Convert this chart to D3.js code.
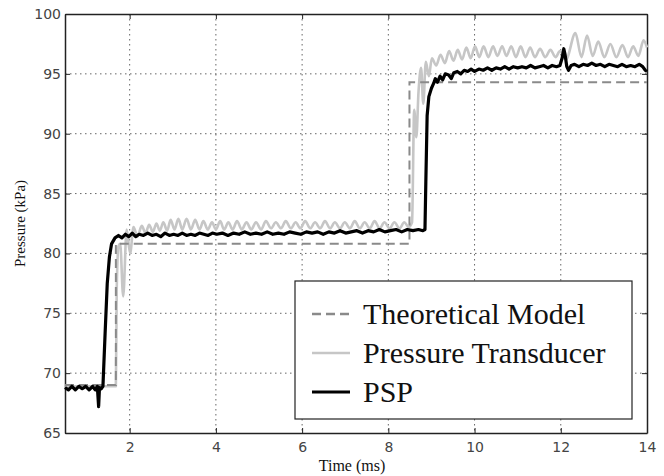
<!DOCTYPE html>
<html><head><meta charset="utf-8">
<script src="https://cdn.jsdelivr.net/npm/d3@7"></script>
<style>body{margin:0;background:#fff}</style>
</head><body><svg id="c" width="664" height="476"></svg>
<script>
const xTicks = [2,4,6,8,10,12,14];
const yTicks = [65,70,75,80,85,90,95,100];
const xDomain = [0.5,14];
const yDomain = [65,100];
const seriesNames = ["Theoretical Model","Pressure Transducer","PSP"];

const theoretical = [[0.5,69.0],[1.68,69.0],[1.68,80.8],[8.49,80.8],[8.49,94.3],[14,94.3]];

const transducer = [[0.50,68.9],[1.68,68.9],[1.70,77.0],[1.74,80.6],[1.78,80.8],[1.85,76.4],[1.93,82.0],[2.01,80.0],[2.09,82.2],[2.18,81.4],[2.28,82.3],[2.37,81.7],[2.45,82.4],[2.54,81.8],[2.62,82.5],[2.70,81.9],[2.78,82.6],[2.87,81.9],[2.95,82.8],[3.04,82.0],[3.13,82.9],[3.22,82.0],[3.32,82.9],[3.42,82.0],[3.52,82.8],[3.62,82.0],[3.71,82.7],[3.81,82.0],[3.91,82.6],[4.00,82.0],[4.10,82.7],[4.19,82.0],[4.29,82.6],[4.39,82.0],[4.49,82.7],[4.60,82.0],[4.71,82.6],[4.82,82.0],[4.93,82.6],[5.05,82.0],[5.16,82.7],[5.28,82.1],[5.39,82.6],[5.51,82.1],[5.62,82.7],[5.74,82.1],[5.85,82.6],[5.96,82.1],[6.07,82.7],[6.19,82.1],[6.30,82.6],[6.42,82.1],[6.53,82.7],[6.65,82.1],[6.76,82.6],[6.88,82.1],[6.99,82.6],[7.11,82.1],[7.22,82.7],[7.34,82.1],[7.45,82.6],[7.57,82.1],[7.68,82.7],[7.80,82.1],[7.91,82.6],[8.03,82.1],[8.14,82.6],[8.26,82.1],[8.37,82.6],[8.47,82.2],[8.55,82.6],[8.60,92.0],[8.65,89.7],[8.70,93.5],[8.76,95.5],[8.81,92.5],[8.87,96.0],[8.94,94.8],[9.01,96.3],[9.11,95.7],[9.21,96.6],[9.31,95.9],[9.41,96.9],[9.51,96.1],[9.61,97.0],[9.71,96.2],[9.81,97.2],[9.91,96.3],[10.01,97.3],[10.11,96.4],[10.21,97.3],[10.32,96.4],[10.43,97.3],[10.53,96.5],[10.64,97.3],[10.74,96.5],[10.85,97.3],[10.96,96.4],[11.07,97.3],[11.18,96.4],[11.29,97.2],[11.40,96.4],[11.52,97.1],[11.64,96.4],[11.76,97.0],[11.88,96.4],[11.98,96.9],[12.12,96.2],[12.34,98.4],[12.48,96.4],[12.61,98.2],[12.74,96.5],[12.87,97.7],[13.01,96.4],[13.15,97.5],[13.29,96.4],[13.43,97.4],[13.56,96.4],[13.68,97.3],[13.80,96.5],[13.92,97.8],[14.0,97.2]];

const psp = [[0.50,68.8],[0.58,68.6],[0.66,68.9],[0.74,68.6],[0.82,68.9],[0.90,68.7],[0.98,68.9],[1.06,68.6],[1.14,68.9],[1.20,68.6],[1.25,68.9],[1.28,67.2],[1.30,68.8],[1.34,68.7],[1.38,68.9],[1.43,73.3],[1.48,77.5],[1.53,79.7],[1.58,80.8],[1.66,81.3],[1.74,81.5],[1.82,81.3],[1.90,81.6],[1.98,81.4],[2.06,81.7],[2.14,81.4],[2.22,81.6],[2.32,81.5],[2.42,81.7],[2.52,81.5],[2.62,81.6],[2.72,81.4],[2.82,81.7],[2.92,81.5],[3.02,81.6],[3.12,81.5],[3.22,81.7],[3.32,81.5],[3.42,81.6],[3.52,81.5],[3.62,81.7],[3.72,81.6],[3.82,81.5],[3.92,81.7],[4.02,81.6],[4.15,81.7],[4.28,81.5],[4.41,81.7],[4.54,81.6],[4.67,81.8],[4.80,81.6],[4.93,81.7],[5.06,81.6],[5.19,81.8],[5.32,81.6],[5.45,81.7],[5.58,81.6],[5.71,81.8],[5.84,81.7],[5.97,81.6],[6.10,81.8],[6.23,81.7],[6.36,81.8],[6.49,81.6],[6.62,81.8],[6.75,81.7],[6.88,81.9],[7.01,81.7],[7.14,81.8],[7.27,81.9],[7.40,81.7],[7.53,81.9],[7.66,81.8],[7.79,82.0],[7.92,81.8],[8.05,81.9],[8.18,82.0],[8.31,81.8],[8.44,82.0],[8.57,81.9],[8.70,82.0],[8.80,81.9],[8.85,82.0],[8.87,86.0],[8.90,91.5],[8.94,93.1],[9.00,93.8],[9.05,94.2],[9.09,94.6],[9.14,94.3],[9.20,94.8],[9.26,94.5],[9.32,95.0],[9.40,94.9],[9.46,94.6],[9.52,95.1],[9.60,95.2],[9.68,95.0],[9.76,95.3],[9.84,95.2],[9.92,95.4],[10.0,95.2],[10.1,95.4],[10.2,95.3],[10.3,95.5],[10.4,95.3],[10.5,95.5],[10.6,95.4],[10.7,95.6],[10.8,95.4],[10.9,95.6],[11.0,95.5],[11.1,95.6],[11.2,95.5],[11.3,95.7],[11.4,95.5],[11.5,95.6],[11.6,95.7],[11.7,95.5],[11.8,95.7],[11.9,95.6],[11.98,95.7],[12.03,96.3],[12.07,97.1],[12.10,96.6],[12.14,95.6],[12.18,95.3],[12.24,95.7],[12.32,95.8],[12.42,95.6],[12.52,95.8],[12.62,95.7],[12.72,95.9],[12.82,95.7],[12.92,95.8],[13.02,95.6],[13.12,95.8],[13.22,95.7],[13.32,95.6],[13.42,95.8],[13.52,95.6],[13.62,95.7],[13.72,95.6],[13.82,95.8],[13.90,95.6],[13.96,95.3],[14.0,95.2]];

const M = {left:65, top:14, right:17, bottom:43};
const W = 664, H = 476;
const svg = d3.select("#c");
const x = d3.scaleLinear().domain(xDomain).range([M.left, W - M.right]);
const y = d3.scaleLinear().domain(yDomain).range([H - M.bottom, M.top]);

// grid
const grid = svg.append("g").attr("stroke","#666").attr("stroke-width",1).attr("stroke-dasharray","1.5,3.5");
grid.selectAll(".gx").data(xTicks.filter(d=>d<14)).join("line")
  .attr("x1",d=>x(d)).attr("x2",d=>x(d)).attr("y1",y(100)).attr("y2",y(65));
grid.selectAll(".gy").data(yTicks.filter(d=>d>65&&d<100)).join("line")
  .attr("y1",d=>y(d)).attr("y2",d=>y(d)).attr("x1",x(0.5)).attr("x2",x(14));

// axes (inward ticks on all four sides)
const fontTick = "DejaVu Sans, sans-serif";
const axB = svg.append("g").attr("transform",`translate(0,${y(65)})`)
  .call(d3.axisBottom(x).tickValues(xTicks).tickSize(-5).tickPadding(9).tickSizeOuter(0));
const axT = svg.append("g").attr("transform",`translate(0,${y(100)})`)
  .call(d3.axisTop(x).tickValues(xTicks).tickSize(-5).tickFormat("").tickSizeOuter(0));
const axL = svg.append("g").attr("transform",`translate(${x(0.5)},0)`)
  .call(d3.axisLeft(y).tickValues(yTicks).tickSize(-5).tickPadding(4).tickSizeOuter(0));
const axR = svg.append("g").attr("transform",`translate(${x(14)},0)`)
  .call(d3.axisRight(y).tickValues(yTicks).tickSize(-5).tickFormat("").tickSizeOuter(0));
[axB,axT,axL,axR].forEach(a=>{
  a.select(".domain").attr("stroke","#222").attr("stroke-width",1.5);
  a.selectAll(".tick line").attr("stroke","#222");
  a.selectAll("text").attr("font-family",fontTick).attr("font-size",14).attr("fill","#444");
});

// series
const line = d3.line().x(d=>x(d[0])).y(d=>y(d[1]));
const smooth = d3.line().x(d=>x(d[0])).y(d=>y(d[1])).curve(d3.curveMonotoneX);
const plot = svg.append("g");
plot.append("path").datum(transducer).attr("d",smooth).attr("fill","none")
  .attr("stroke","#c6c6c6").attr("stroke-width",2.6).attr("stroke-linejoin","round");
plot.append("path").datum(theoretical).attr("d",line).attr("fill","none")
  .attr("stroke","#8a8a8a").attr("stroke-width",2).attr("stroke-dasharray","9,5");
plot.append("path").datum(psp).attr("d",line).attr("fill","none")
  .attr("stroke","#000").attr("stroke-width",3.2).attr("stroke-linejoin","round");

// axis titles
svg.append("text").attr("x",352).attr("y",471).attr("text-anchor","middle")
  .attr("font-family","Liberation Serif, serif").attr("font-size",16).attr("fill","#111").text("Time (ms)");
svg.append("text").attr("transform",`translate(25,${(y(65)+y(100))/2}) rotate(-90)`).attr("text-anchor","middle")
  .attr("font-family","Liberation Serif, serif").attr("font-size",15).attr("fill","#111").text("Pressure (kPa)");

// legend
const lg = svg.append("g");
lg.append("rect").attr("x",295).attr("y",281).attr("width",337).attr("height",138)
  .attr("fill","#fff").attr("stroke","#222").attr("stroke-width",1.2);
const lstyles = [
  {stroke:"#8a8a8a", dash:"9,5", w:2.5},
  {stroke:"#c6c6c6", dash:null, w:2.5},
  {stroke:"#000", dash:null, w:2.8}
];
seriesNames.forEach((n,i)=>{
  const by = 324 + i*39;
  lg.append("line").attr("x1",312).attr("x2",350).attr("y1",by-10).attr("y2",by-10)
    .attr("stroke",lstyles[i].stroke).attr("stroke-width",lstyles[i].w)
    .attr("stroke-dasharray",lstyles[i].dash);
  lg.append("text").attr("x",363).attr("y",by).attr("font-family","Liberation Serif, serif")
    .attr("font-size",30).attr("fill","#111").text(n);
});
</script></body></html>
